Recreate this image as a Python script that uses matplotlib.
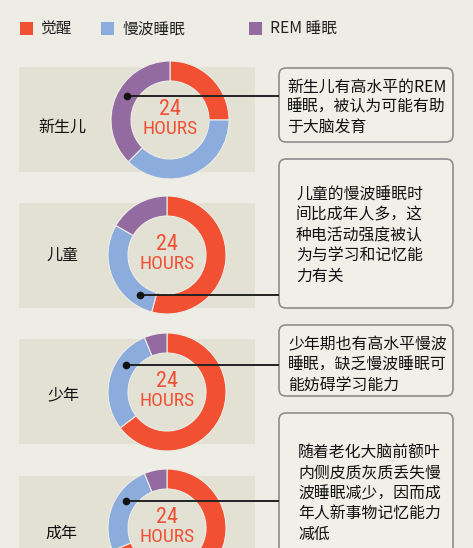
import matplotlib
matplotlib.use("Agg")
import matplotlib.pyplot as plt
from matplotlib.patches import Rectangle, FancyBboxPatch

plt.rcParams['font.family'] = ['Noto Sans CJK SC', 'DejaVu Sans']

# data (hours out of 24)
stages = ["觉醒", "慢波睡眠", "REM 睡眠"]
colors = ["#F15033", "#8BACDC", "#936BA0"]
groups = ["新生儿", "儿童", "少年", "成年"]
awake = [6, 13, 15.5, 16.5]
sws = [9, 7, 7, 6]
rem = [9, 4, 1.5, 1.5]

notes = [
    ["新生儿有高水平的REM", "睡眠，被认为可能有助", "于大脑发育"],
    ["儿童的慢波睡眠时", "间比成年人多，这", "种电活动强度被认", "为与学习和记忆能", "力有关"],
    ["少年期也有高水平慢波", "睡眠，缺乏慢波睡眠可", "能妨碍学习能力"],
    ["随着老化大脑前额叶", "内侧皮质灰质丢失慢", "波睡眠减少，因而成", "年人新事物记忆能力", "减低"],
]

W, H = 473, 548
BG = "#EEEDE5"
PANEL = "#E3E1D4"

fig = plt.figure(figsize=(W / 100, H / 100), dpi=100, facecolor=BG)
ax = fig.add_axes([0, 0, 1, 1])
ax.set_xlim(0, W)
ax.set_ylim(H, 0)
ax.axis("off")

# layout in pixels
panel_top = [67, 203, 339, 476]
panel_h = 105
centers = [(170, 120), (167, 255), (167, 392), (167, 528)]
label_pos = [(62, 127), (62, 255), (63, 395), (61, 533)]
boxes = [(279, 68, 142), (279, 159, 308), (279, 325, 396), (279, 413, 560)]
text_pos = [(287, 87), (296, 195), (288, 345), (298, 453)]
link = [(127, 96), (140, 295), (126, 365), (126, 501)]
R_OUT, R_IN = 59, 39

# legend
leg_x = [20, 101, 249]
for x, c, s in zip(leg_x, colors, stages):
    ax.add_patch(Rectangle((x, 22), 13, 13, color=c, lw=0))
    ax.text(x + 21, 29, s, fontsize=11.3, va="center", ha="left", color="#222")

for i, g in enumerate(groups):
    ax.add_patch(Rectangle((19, panel_top[i]), 236, panel_h, color=PANEL, lw=0))
    ax.text(*label_pos[i], g, fontsize=11.5, ha="center", va="center", color="#111")

    x0, y0, y1 = boxes[i]
    ax.add_patch(FancyBboxPatch((x0, y0), 174, y1 - y0,
                                boxstyle="round,pad=0,rounding_size=7",
                                fc="#F0EFE8", ec="#8C8C8C", lw=1.2))
    tx, ty = text_pos[i]
    for j, line in enumerate(notes[i]):
        ax.text(tx, ty + j * 20.3, line, fontsize=11.4, ha="left", va="center", color="#111")

    # donut
    cx, cy = centers[i]
    dax = fig.add_axes([(cx - R_OUT) / W, 1 - (cy + R_OUT) / H, 2 * R_OUT / W, 2 * R_OUT / H])
    dax.pie([awake[i], sws[i], rem[i]], colors=colors, startangle=90, counterclock=False,
            radius=1, wedgeprops=dict(width=(R_OUT - R_IN) / R_OUT, edgecolor=BG, linewidth=0.8))
    dax.set_xlim(-1, 1)
    dax.set_ylim(-1, 1)
    dax.set_aspect("equal")
    dax.axis("off")
    hfam = ['Roboto Condensed', 'Liberation Sans Narrow', 'DejaVu Sans']
    dax.text(0, 0.17, "24", family=hfam, fontsize=16, color="#F15033", ha="center", va="center")
    dax.text(0, -0.16, "HOURS", family=hfam, fontsize=14, color="#F15033", ha="center", va="center")

# connector lines on top
top = fig.add_axes([0, 0, 1, 1])
top.set_xlim(0, W)
top.set_ylim(H, 0)
top.axis("off")
top.patch.set_alpha(0)
for x, y in link:
    top.plot([x, 279], [y, y], color="#222", lw=1.4, solid_capstyle="butt")
    top.plot(x, y, "o", color="#111", ms=4.5)

fig.savefig("out.png", dpi=100, facecolor=BG)
